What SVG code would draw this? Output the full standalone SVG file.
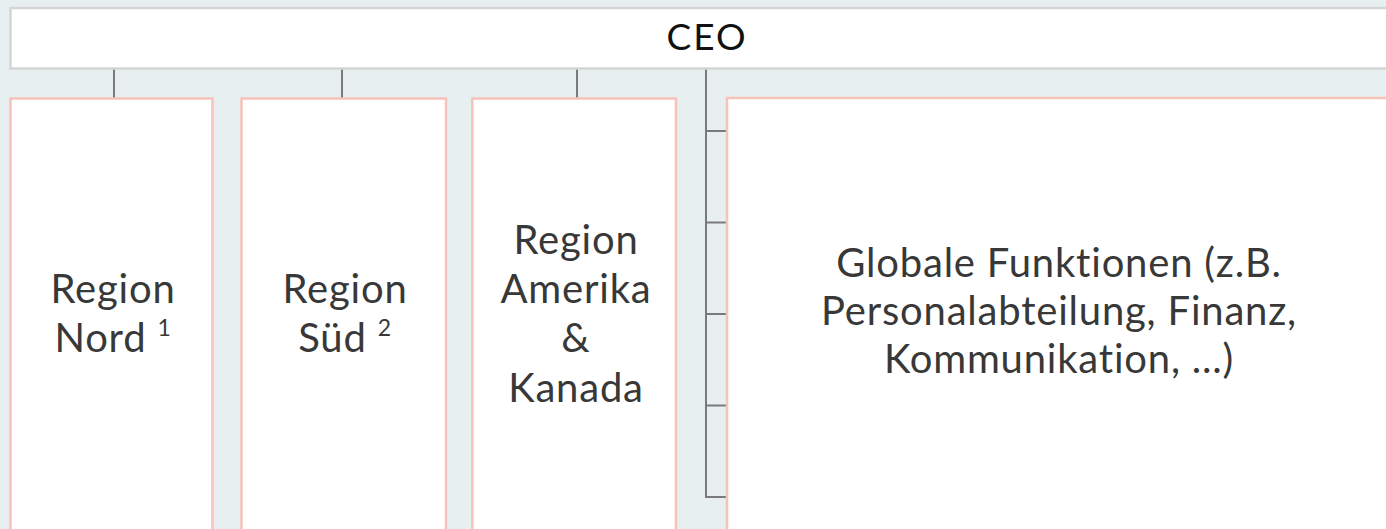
<svg xmlns="http://www.w3.org/2000/svg" width="1386" height="529" viewBox="0 0 1386 529">
<style>
.bg{fill:#e7eff0}
.ceo{fill:#ffffff;stroke:#d5d5d5;stroke-width:2.5}
.unit{fill:#ffffff;stroke:#f6c3b9;stroke-width:2.5}
.conn{stroke:#7a7a7a;stroke-width:2;fill:none}
.t{font-family:Lato,"Liberation Sans",sans-serif;font-size:40px;letter-spacing:0.8px;font-variant-ligatures:none;fill:#383838;text-anchor:middle}
.tc{font-family:Lato,"Liberation Sans",sans-serif;font-size:37px;letter-spacing:2px;fill:#111111;text-anchor:middle}
.sup{font-size:23px}
</style>
<rect class="bg" x="0" y="0" width="1386" height="529"/>
<g id="connectors">
<line class="conn" x1="114" y1="69" x2="114" y2="98"/>
<line class="conn" x1="342" y1="69" x2="342" y2="98"/>
<line class="conn" x1="577" y1="69" x2="577" y2="98"/>
<line class="conn" x1="706" y1="69" x2="706" y2="497"/>
<line class="conn" x1="705" y1="131" x2="727" y2="131"/>
<line class="conn" x1="705" y1="222.5" x2="727" y2="222.5"/>
<line class="conn" x1="705" y1="314" x2="727" y2="314"/>
<line class="conn" x1="705" y1="405.5" x2="727" y2="405.5"/>
<line class="conn" x1="705" y1="497" x2="727" y2="497"/>
</g>
<g id="ceo">
<rect class="ceo" x="10.5" y="8" width="1390" height="60.5"/>
<text class="tc" x="707" y="50">CEO</text>
</g>
<g id="region-nord">
<rect class="unit" x="10.5" y="98.5" width="202" height="450"/>
<text class="t" x="113" y="303">Region</text>
<text class="t" x="113" y="352">Nord <tspan class="sup" dy="-16">1</tspan></text>
</g>
<g id="region-sued">
<rect class="unit" x="241.5" y="98.5" width="204.5" height="450"/>
<text class="t" x="345" y="303">Region</text>
<text class="t" x="345" y="352">Süd <tspan class="sup" dy="-16">2</tspan></text>
</g>
<g id="region-amerika">
<rect class="unit" x="472.3" y="98.5" width="203.7" height="450"/>
<text class="t" x="576" y="254">Region</text>
<text class="t" x="576" y="303">Amerika</text>
<text class="t" x="576" y="352">&amp;</text>
<text class="t" x="576" y="402">Kanada</text>
</g>
<g id="globale-funktionen">
<rect class="unit" x="727" y="98" width="680" height="450"/>
<text class="t" x="1059" y="277">Globale Funktionen (z.B.</text>
<text class="t" x="1059" y="325">Personalabteilung, Finanz,</text>
<text class="t" x="1059" y="373">Kommunikation, ...)</text>
</g>
</svg>
